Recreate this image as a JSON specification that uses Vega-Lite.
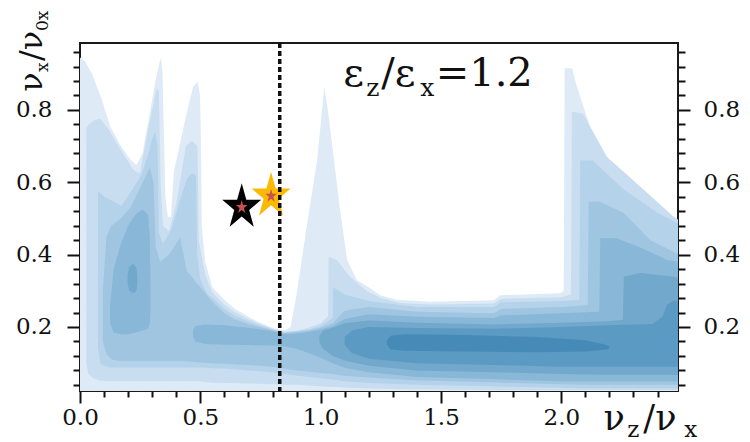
{
"$schema":"https://vega.github.io/schema/vega-lite/v6.json",
"autosize":"none",
"width":598,"height":348,
"padding":{"left":80,"top":43,"right":72,"bottom":51},
"background":"white",
"config":{"view":{"stroke":"#1a1a1a","strokeWidth":2}},
"datasets":{
"c":[
{"l":1,"p":"a","x":0.0,"lo":0.02,"hi":0.945},{"l":1,"p":"a","x":0.02,"lo":0.02,"hi":0.935},{"l":1,"p":"a","x":0.05,"lo":0.02,"hi":0.9},{"l":1,"p":"a","x":0.09,"lo":0.02,"hi":0.83},{"l":1,"p":"a","x":0.125,"lo":0.02,"hi":0.755},{"l":1,"p":"a","x":0.17,"lo":0.02,"hi":0.7},{"l":1,"p":"a","x":0.21,"lo":0.02,"hi":0.662},{"l":1,"p":"a","x":0.235,"lo":0.02,"hi":0.648},{"l":1,"p":"a","x":0.26,"lo":0.02,"hi":0.68},{"l":1,"p":"a","x":0.29,"lo":0.02,"hi":0.79},{"l":1,"p":"a","x":0.312,"lo":0.02,"hi":0.875},{"l":1,"p":"a","x":0.33,"lo":0.02,"hi":0.93},{"l":1,"p":"a","x":0.337,"lo":0.02,"hi":0.945},{"l":1,"p":"a","x":0.343,"lo":0.02,"hi":0.9},{"l":1,"p":"a","x":0.348,"lo":0.02,"hi":0.75},{"l":1,"p":"a","x":0.355,"lo":0.02,"hi":0.56},{"l":1,"p":"a","x":0.365,"lo":0.02,"hi":0.505},{"l":1,"p":"a","x":0.378,"lo":0.02,"hi":0.505},{"l":1,"p":"a","x":0.39,"lo":0.02,"hi":0.63},{"l":1,"p":"a","x":0.42,"lo":0.02,"hi":0.72},{"l":1,"p":"a","x":0.443,"lo":0.02,"hi":0.79},{"l":1,"p":"a","x":0.47,"lo":0.02,"hi":0.864},{"l":1,"p":"a","x":0.489,"lo":0.02,"hi":0.878},{"l":1,"p":"a","x":0.499,"lo":0.02,"hi":0.84},{"l":1,"p":"a","x":0.503,"lo":0.02,"hi":0.7},{"l":1,"p":"a","x":0.506,"lo":0.02,"hi":0.48},{"l":1,"p":"a","x":0.52,"lo":0.02,"hi":0.38},{"l":1,"p":"a","x":0.55,"lo":0.02,"hi":0.31},{"l":1,"p":"a","x":0.6,"lo":0.02,"hi":0.275},{"l":1,"p":"a","x":0.64,"lo":0.02,"hi":0.252},{"l":1,"p":"a","x":0.7,"lo":0.02,"hi":0.228},{"l":1,"p":"a","x":0.735,"lo":0.02,"hi":0.216},{"l":1,"p":"a","x":0.8,"lo":0.02,"hi":0.197},{"l":1,"p":"a","x":0.85,"lo":0.02,"hi":0.19},{"l":1,"p":"a","x":0.875,"lo":0.02,"hi":0.2},{"l":1,"p":"a","x":0.9,"lo":0.02,"hi":0.29},{"l":1,"p":"a","x":0.942,"lo":0.02,"hi":0.477},{"l":1,"p":"a","x":0.985,"lo":0.02,"hi":0.66},{"l":1,"p":"a","x":1.0,"lo":0.02,"hi":0.76},{"l":1,"p":"a","x":1.015,"lo":0.02,"hi":0.865},{"l":1,"p":"a","x":1.03,"lo":0.02,"hi":0.8},{"l":1,"p":"a","x":1.047,"lo":0.02,"hi":0.708},{"l":1,"p":"a","x":1.081,"lo":0.02,"hi":0.523},{"l":1,"p":"a","x":1.11,"lo":0.02,"hi":0.385},{"l":1,"p":"a","x":1.15,"lo":0.02,"hi":0.33},{"l":1,"p":"a","x":1.206,"lo":0.02,"hi":0.307},{"l":1,"p":"a","x":1.247,"lo":0.02,"hi":0.288},{"l":1,"p":"a","x":1.317,"lo":0.02,"hi":0.275},{"l":1,"p":"a","x":1.455,"lo":0.02,"hi":0.27},{"l":1,"p":"a","x":1.72,"lo":0.02,"hi":0.274},{"l":1,"p":"a","x":1.746,"lo":0.02,"hi":0.288},{"l":1,"p":"a","x":1.996,"lo":0.02,"hi":0.293},{"l":1,"p":"a","x":2.01,"lo":0.02,"hi":0.3},{"l":1,"p":"a","x":2.014,"lo":0.02,"hi":0.915},{"l":1,"p":"a","x":2.045,"lo":0.02,"hi":0.915},{"l":1,"p":"a","x":2.065,"lo":0.02,"hi":0.864},{"l":1,"p":"a","x":2.12,"lo":0.02,"hi":0.753},{"l":1,"p":"a","x":2.19,"lo":0.02,"hi":0.661},{"l":1,"p":"a","x":2.328,"lo":0.02,"hi":0.569},{"l":1,"p":"a","x":2.467,"lo":0.02,"hi":0.477},{"l":1,"p":"a","x":2.49,"lo":0.02,"hi":0.46},

{"l":2,"p":"a","x":0.026,"lo":0.1,"hi":0.75},{"l":2,"p":"a","x":0.035,"lo":0.07,"hi":0.758},{"l":2,"p":"a","x":0.055,"lo":0.058,"hi":0.77},{"l":2,"p":"a","x":0.083,"lo":0.052,"hi":0.776},{"l":2,"p":"a","x":0.12,"lo":0.05,"hi":0.745},{"l":2,"p":"a","x":0.153,"lo":0.05,"hi":0.708},{"l":2,"p":"a","x":0.222,"lo":0.05,"hi":0.634},{"l":2,"p":"a","x":0.249,"lo":0.05,"hi":0.625},{"l":2,"p":"a","x":0.284,"lo":0.05,"hi":0.75},{"l":2,"p":"a","x":0.3,"lo":0.05,"hi":0.8},{"l":2,"p":"a","x":0.318,"lo":0.05,"hi":0.86},{"l":2,"p":"a","x":0.328,"lo":0.05,"hi":0.85},{"l":2,"p":"a","x":0.335,"lo":0.05,"hi":0.6},{"l":2,"p":"a","x":0.345,"lo":0.05,"hi":0.48},{"l":2,"p":"a","x":0.37,"lo":0.05,"hi":0.465},{"l":2,"p":"a","x":0.4,"lo":0.05,"hi":0.54},{"l":2,"p":"a","x":0.44,"lo":0.05,"hi":0.7},{"l":2,"p":"a","x":0.465,"lo":0.05,"hi":0.715},{"l":2,"p":"a","x":0.488,"lo":0.05,"hi":0.7},{"l":2,"p":"a","x":0.494,"lo":0.05,"hi":0.44},{"l":2,"p":"a","x":0.52,"lo":0.048,"hi":0.345},{"l":2,"p":"a","x":0.55,"lo":0.046,"hi":0.295},{"l":2,"p":"a","x":0.6,"lo":0.045,"hi":0.262},{"l":2,"p":"a","x":0.64,"lo":0.045,"hi":0.242},{"l":2,"p":"a","x":0.7,"lo":0.044,"hi":0.222},{"l":2,"p":"a","x":0.735,"lo":0.043,"hi":0.212},{"l":2,"p":"a","x":0.8,"lo":0.042,"hi":0.195},{"l":2,"p":"a","x":0.85,"lo":0.04,"hi":0.187},{"l":2,"p":"a","x":0.9,"lo":0.04,"hi":0.19},{"l":2,"p":"a","x":0.95,"lo":0.038,"hi":0.198},{"l":2,"p":"a","x":1.0,"lo":0.036,"hi":0.21},{"l":2,"p":"a","x":1.031,"lo":0.035,"hi":0.23},{"l":2,"p":"a","x":1.033,"lo":0.035,"hi":0.394},{"l":2,"p":"a","x":1.067,"lo":0.034,"hi":0.385},{"l":2,"p":"a","x":1.12,"lo":0.032,"hi":0.34},{"l":2,"p":"a","x":1.19,"lo":0.03,"hi":0.3},{"l":2,"p":"a","x":1.25,"lo":0.029,"hi":0.28},{"l":2,"p":"a","x":1.33,"lo":0.028,"hi":0.266},{"l":2,"p":"a","x":1.455,"lo":0.027,"hi":0.262},{"l":2,"p":"a","x":1.72,"lo":0.026,"hi":0.265},{"l":2,"p":"a","x":1.75,"lo":0.026,"hi":0.278},{"l":2,"p":"a","x":2.0,"lo":0.025,"hi":0.282},{"l":2,"p":"a","x":2.04,"lo":0.025,"hi":0.29},{"l":2,"p":"a","x":2.044,"lo":0.025,"hi":0.795},{"l":2,"p":"a","x":2.09,"lo":0.025,"hi":0.79},{"l":2,"p":"a","x":2.19,"lo":0.025,"hi":0.67},{"l":2,"p":"a","x":2.328,"lo":0.025,"hi":0.588},{"l":2,"p":"a","x":2.467,"lo":0.025,"hi":0.505},{"l":2,"p":"a","x":2.49,"lo":0.025,"hi":0.495},

{"l":3,"p":"a","x":0.075,"lo":0.14,"hi":0.575},{"l":3,"p":"a","x":0.085,"lo":0.1,"hi":0.57},{"l":3,"p":"a","x":0.1,"lo":0.092,"hi":0.56},{"l":3,"p":"a","x":0.13,"lo":0.088,"hi":0.55},{"l":3,"p":"a","x":0.172,"lo":0.088,"hi":0.535},{"l":3,"p":"a","x":0.213,"lo":0.088,"hi":0.575},{"l":3,"p":"a","x":0.255,"lo":0.088,"hi":0.62},{"l":3,"p":"a","x":0.28,"lo":0.088,"hi":0.67},{"l":3,"p":"a","x":0.3,"lo":0.088,"hi":0.72},{"l":3,"p":"a","x":0.312,"lo":0.088,"hi":0.74},{"l":3,"p":"a","x":0.322,"lo":0.088,"hi":0.7},{"l":3,"p":"a","x":0.328,"lo":0.088,"hi":0.46},{"l":3,"p":"a","x":0.345,"lo":0.088,"hi":0.43},{"l":3,"p":"a","x":0.38,"lo":0.088,"hi":0.47},{"l":3,"p":"a","x":0.42,"lo":0.088,"hi":0.56},{"l":3,"p":"a","x":0.445,"lo":0.088,"hi":0.61},{"l":3,"p":"a","x":0.465,"lo":0.088,"hi":0.625},{"l":3,"p":"a","x":0.482,"lo":0.088,"hi":0.62},{"l":3,"p":"a","x":0.487,"lo":0.088,"hi":0.4},{"l":3,"p":"a","x":0.5,"lo":0.088,"hi":0.33},{"l":3,"p":"a","x":0.53,"lo":0.087,"hi":0.29},{"l":3,"p":"a","x":0.55,"lo":0.086,"hi":0.28},{"l":3,"p":"a","x":0.6,"lo":0.085,"hi":0.25},{"l":3,"p":"a","x":0.64,"lo":0.083,"hi":0.232},{"l":3,"p":"a","x":0.7,"lo":0.08,"hi":0.215},{"l":3,"p":"a","x":0.8,"lo":0.075,"hi":0.193},{"l":3,"p":"a","x":0.85,"lo":0.07,"hi":0.185},{"l":3,"p":"a","x":0.9,"lo":0.066,"hi":0.188},{"l":3,"p":"a","x":0.95,"lo":0.062,"hi":0.193},{"l":3,"p":"a","x":1.0,"lo":0.058,"hi":0.203},{"l":3,"p":"a","x":1.05,"lo":0.055,"hi":0.225},{"l":3,"p":"a","x":1.052,"lo":0.055,"hi":0.31},{"l":3,"p":"a","x":1.1,"lo":0.05,"hi":0.29},{"l":3,"p":"a","x":1.2,"lo":0.045,"hi":0.272},{"l":3,"p":"a","x":1.4,"lo":0.04,"hi":0.255},{"l":3,"p":"a","x":1.72,"lo":0.036,"hi":0.255},{"l":3,"p":"a","x":1.75,"lo":0.035,"hi":0.268},{"l":3,"p":"a","x":2.0,"lo":0.032,"hi":0.272},{"l":3,"p":"a","x":2.075,"lo":0.03,"hi":0.275},{"l":3,"p":"a","x":2.079,"lo":0.03,"hi":0.66},{"l":3,"p":"a","x":2.13,"lo":0.03,"hi":0.66},{"l":3,"p":"a","x":2.26,"lo":0.03,"hi":0.58},{"l":3,"p":"a","x":2.4,"lo":0.03,"hi":0.515},{"l":3,"p":"a","x":2.49,"lo":0.03,"hi":0.485},

{"l":4,"p":"a","x":0.095,"lo":0.16,"hi":0.3},{"l":4,"p":"a","x":0.11,"lo":0.125,"hi":0.45},{"l":4,"p":"a","x":0.13,"lo":0.11,"hi":0.48},{"l":4,"p":"a","x":0.17,"lo":0.105,"hi":0.5},{"l":4,"p":"a","x":0.21,"lo":0.105,"hi":0.53},{"l":4,"p":"a","x":0.25,"lo":0.105,"hi":0.585},{"l":4,"p":"a","x":0.29,"lo":0.105,"hi":0.64},{"l":4,"p":"a","x":0.305,"lo":0.105,"hi":0.6},{"l":4,"p":"a","x":0.315,"lo":0.105,"hi":0.42},{"l":4,"p":"a","x":0.333,"lo":0.105,"hi":0.38},{"l":4,"p":"a","x":0.37,"lo":0.105,"hi":0.4},{"l":4,"p":"a","x":0.416,"lo":0.105,"hi":0.447},{"l":4,"p":"a","x":0.444,"lo":0.105,"hi":0.355},{"l":4,"p":"a","x":0.5,"lo":0.102,"hi":0.31},{"l":4,"p":"a","x":0.55,"lo":0.1,"hi":0.27},{"l":4,"p":"a","x":0.6,"lo":0.098,"hi":0.238},{"l":4,"p":"a","x":0.64,"lo":0.097,"hi":0.222},{"l":4,"p":"a","x":0.7,"lo":0.095,"hi":0.208},{"l":4,"p":"a","x":0.8,"lo":0.09,"hi":0.191},{"l":4,"p":"a","x":0.85,"lo":0.085,"hi":0.183},{"l":4,"p":"a","x":0.9,"lo":0.08,"hi":0.186},{"l":4,"p":"a","x":0.95,"lo":0.077,"hi":0.19},{"l":4,"p":"a","x":1.0,"lo":0.073,"hi":0.198},{"l":4,"p":"a","x":1.05,"lo":0.07,"hi":0.21},{"l":4,"p":"a","x":1.1,"lo":0.065,"hi":0.245},{"l":4,"p":"a","x":1.2,"lo":0.06,"hi":0.255},{"l":4,"p":"a","x":1.4,"lo":0.052,"hi":0.242},{"l":4,"p":"a","x":1.72,"lo":0.047,"hi":0.238},{"l":4,"p":"a","x":1.75,"lo":0.046,"hi":0.25},{"l":4,"p":"a","x":2.0,"lo":0.042,"hi":0.255},{"l":4,"p":"a","x":2.11,"lo":0.04,"hi":0.26},{"l":4,"p":"a","x":2.114,"lo":0.04,"hi":0.546},{"l":4,"p":"a","x":2.16,"lo":0.04,"hi":0.546},{"l":4,"p":"a","x":2.26,"lo":0.04,"hi":0.515},{"l":4,"p":"a","x":2.37,"lo":0.04,"hi":0.44},{"l":4,"p":"a","x":2.49,"lo":0.04,"hi":0.4},

{"l":5,"p":"a","x":0.125,"lo":0.21,"hi":0.26},{"l":5,"p":"a","x":0.14,"lo":0.185,"hi":0.36},{"l":5,"p":"a","x":0.17,"lo":0.18,"hi":0.43},{"l":5,"p":"a","x":0.2,"lo":0.18,"hi":0.48},{"l":5,"p":"a","x":0.23,"lo":0.185,"hi":0.51},{"l":5,"p":"a","x":0.26,"lo":0.19,"hi":0.525},{"l":5,"p":"a","x":0.283,"lo":0.195,"hi":0.51},{"l":5,"p":"a","x":0.29,"lo":0.21,"hi":0.45},{"l":5,"p":"a","x":0.293,"lo":0.25,"hi":0.3},
{"l":5,"p":"b","x":0.47,"lo":0.172,"hi":0.192},{"l":5,"p":"b","x":0.48,"lo":0.16,"hi":0.203},{"l":5,"p":"b","x":0.52,"lo":0.153,"hi":0.207},{"l":5,"p":"b","x":0.6,"lo":0.151,"hi":0.205},{"l":5,"p":"b","x":0.7,"lo":0.15,"hi":0.198},{"l":5,"p":"b","x":0.8,"lo":0.149,"hi":0.188},{"l":5,"p":"b","x":0.85,"lo":0.147,"hi":0.18},{"l":5,"p":"b","x":0.9,"lo":0.14,"hi":0.182},{"l":5,"p":"b","x":0.95,"lo":0.128,"hi":0.186},{"l":5,"p":"b","x":1.0,"lo":0.115,"hi":0.193},{"l":5,"p":"b","x":1.05,"lo":0.1,"hi":0.203},{"l":5,"p":"b","x":1.1,"lo":0.087,"hi":0.222},{"l":5,"p":"b","x":1.2,"lo":0.075,"hi":0.235},{"l":5,"p":"b","x":1.4,"lo":0.062,"hi":0.228},{"l":5,"p":"b","x":1.72,"lo":0.056,"hi":0.225},{"l":5,"p":"b","x":1.75,"lo":0.055,"hi":0.232},{"l":5,"p":"b","x":2.0,"lo":0.05,"hi":0.238},{"l":5,"p":"b","x":2.158,"lo":0.05,"hi":0.242},{"l":5,"p":"b","x":2.162,"lo":0.05,"hi":0.445},{"l":5,"p":"b","x":2.23,"lo":0.05,"hi":0.445},{"l":5,"p":"b","x":2.328,"lo":0.05,"hi":0.42},{"l":5,"p":"b","x":2.44,"lo":0.05,"hi":0.385},{"l":5,"p":"b","x":2.49,"lo":0.05,"hi":0.38},

{"l":6,"p":"a","x":0.198,"lo":0.32,"hi":0.345},{"l":6,"p":"a","x":0.205,"lo":0.3,"hi":0.365},{"l":6,"p":"a","x":0.22,"lo":0.294,"hi":0.374},{"l":6,"p":"a","x":0.233,"lo":0.298,"hi":0.365},{"l":6,"p":"a","x":0.238,"lo":0.315,"hi":0.345},
{"l":6,"p":"b","x":0.995,"lo":0.158,"hi":0.175},{"l":6,"p":"b","x":1.01,"lo":0.14,"hi":0.19},{"l":6,"p":"b","x":1.05,"lo":0.12,"hi":0.198},{"l":6,"p":"b","x":1.1,"lo":0.107,"hi":0.21},{"l":6,"p":"b","x":1.2,"lo":0.093,"hi":0.218},{"l":6,"p":"b","x":1.4,"lo":0.08,"hi":0.212},{"l":6,"p":"b","x":1.72,"lo":0.075,"hi":0.207},{"l":6,"p":"b","x":2.0,"lo":0.07,"hi":0.212},{"l":6,"p":"b","x":2.2,"lo":0.068,"hi":0.216},{"l":6,"p":"b","x":2.256,"lo":0.068,"hi":0.22},{"l":6,"p":"b","x":2.26,"lo":0.068,"hi":0.339},{"l":6,"p":"b","x":2.328,"lo":0.068,"hi":0.349},{"l":6,"p":"b","x":2.467,"lo":0.068,"hi":0.339},{"l":6,"p":"b","x":2.49,"lo":0.068,"hi":0.335},

{"l":7,"p":"a","x":1.1,"lo":0.15,"hi":0.172},{"l":7,"p":"a","x":1.13,"lo":0.128,"hi":0.19},{"l":7,"p":"a","x":1.2,"lo":0.112,"hi":0.2},{"l":7,"p":"a","x":1.4,"lo":0.1,"hi":0.197},{"l":7,"p":"a","x":1.72,"lo":0.095,"hi":0.195},{"l":7,"p":"a","x":2.0,"lo":0.09,"hi":0.2},{"l":7,"p":"a","x":2.2,"lo":0.09,"hi":0.205},{"l":7,"p":"a","x":2.38,"lo":0.09,"hi":0.208},{"l":7,"p":"a","x":2.42,"lo":0.09,"hi":0.228},{"l":7,"p":"a","x":2.44,"lo":0.09,"hi":0.262},{"l":7,"p":"a","x":2.47,"lo":0.09,"hi":0.274},{"l":7,"p":"a","x":2.49,"lo":0.09,"hi":0.27},

{"l":8,"p":"a","x":1.275,"lo":0.152,"hi":0.162},{"l":8,"p":"a","x":1.29,"lo":0.138,"hi":0.176},{"l":8,"p":"a","x":1.35,"lo":0.134,"hi":0.18},{"l":8,"p":"a","x":1.6,"lo":0.132,"hi":0.178},{"l":8,"p":"a","x":1.9,"lo":0.13,"hi":0.172},{"l":8,"p":"a","x":2.1,"lo":0.132,"hi":0.163},{"l":8,"p":"a","x":2.19,"lo":0.138,"hi":0.15},{"l":8,"p":"a","x":2.2,"lo":0.142,"hi":0.146}
],
"s":[{"k":"b","x":0.672,"y":0.531},{"k":"g","x":0.794,"y":0.562}],
"t":[
{"g":"big","t":"ε","x":1.094,"y":0.866},
{"g":"big","t":"/ε","x":1.252,"y":0.866},
{"g":"big","t":"=1.2","x":1.478,"y":0.866},
{"g":"sub","t":"z","x":1.189,"y":0.839},
{"g":"sub","t":"x","x":1.414,"y":0.839},
{"g":"bt","t":"ν","x":2.175,"y":-0.084},
{"g":"bt","t":"/ν","x":2.341,"y":-0.084},
{"g":"bs","t":"z","x":2.274,"y":-0.103},
{"g":"bs","t":"x","x":2.511,"y":-0.103},
{"g":"lt","t":"ν","x":-0.158,"y":0.85},
{"g":"lt","t":"/ν","x":-0.158,"y":0.935},
{"g":"ls","t":"x","x":-0.133,"y":0.905},
{"g":"ls","t":"0x","x":-0.133,"y":1.018}
]
},
"encoding":{
"x":{"field":"x","type":"quantitative","scale":{"domain":[0,2.485],"nice":false,"zero":false},
 "axis":{"orient":"bottom","values":[0,0.1,0.2,0.3,0.4,0.5,0.6,0.7,0.8,0.9,1.0,1.1,1.2,1.3,1.4,1.5,1.6,1.7,1.8,1.9,2.0,2.1,2.2,2.3,2.4],
 "labelExpr":"abs(datum.value*2-round(datum.value*2))<0.001 ? format(datum.value,'.1f') : ''",
 "tickSize":{"condition":{"test":"abs(datum.value*2-round(datum.value*2))<0.001","value":12},"value":6},
 "tickWidth":2,"tickColor":"#111","domain":false,"grid":false,"title":null,
 "labelFont":"DejaVu Serif","labelFontSize":23,"labelColor":"#111","labelPadding":3,"labelOverlap":false,"labelFlush":false,"labelBound":false}}
},
"resolve":{"axis":{"y":"independent"}},
"layer":[
{
"data":{"name":"c"},
"encoding":{
"y":{"field":"lo","type":"quantitative","scale":{"domain":[0.023,0.985],"nice":false,"zero":false},
 "axis":{"orient":"left","values":[0.04,0.08,0.12,0.16,0.2,0.24,0.28,0.32,0.36,0.4,0.44,0.48,0.52,0.56,0.6,0.64,0.68,0.72,0.76,0.8,0.84,0.88,0.92,0.96],
 "labelExpr":"abs(datum.value*5-round(datum.value*5))<0.001 ? format(datum.value,'.1f') : ''",
 "tickSize":{"condition":{"test":"abs(datum.value*5-round(datum.value*5))<0.001","value":13},"value":7},
 "tickWidth":2,"tickColor":"#111","domain":false,"grid":false,"title":null,
 "labelFont":"DejaVu Serif","labelFontSize":23,"labelColor":"#111","labelPadding":15,"labelOverlap":false,"labelFlush":false,"labelBound":false}},
"y2":{"field":"hi"},
"detail":{"field":"p"}
},
"layer":[
{"transform":[{"filter":"datum.l==1"}],"mark":{"type":"area","orient":"vertical","color":"#deebf7","opacity":1,"clip":true}},
{"transform":[{"filter":"datum.l==2"}],"mark":{"type":"area","orient":"vertical","color":"#c9ddf0","opacity":1,"clip":true}},
{"transform":[{"filter":"datum.l==3"}],"mark":{"type":"area","orient":"vertical","color":"#b4d2ea","opacity":1,"clip":true}},
{"transform":[{"filter":"datum.l==4"}],"mark":{"type":"area","orient":"vertical","color":"#9fc5e1","opacity":1,"clip":true}},
{"transform":[{"filter":"datum.l==5"}],"mark":{"type":"area","orient":"vertical","color":"#88b7d7","opacity":1,"clip":true}},
{"transform":[{"filter":"datum.l==6"}],"mark":{"type":"area","orient":"vertical","color":"#71a8cc","opacity":1,"clip":true}},
{"transform":[{"filter":"datum.l==7"}],"mark":{"type":"area","orient":"vertical","color":"#5b9ac2","opacity":1,"clip":true}},
{"transform":[{"filter":"datum.l==8"}],"mark":{"type":"area","orient":"vertical","color":"#468bb8","opacity":1,"clip":true}}
]
},
{
"data":{"name":"s"},
"mark":{"type":"point","shape":"M0,-1.17L0.225,-0.362L0.951,-0.362L0.363,0.138L0.588,0.947L0,0.447L-0.588,0.947L-0.363,0.138L-0.951,-0.362L-0.225,-0.362Z","filled":true,"opacity":1,"size":1681},
"encoding":{
"y":{"field":"y","type":"quantitative","scale":{"domain":[0.023,0.985],"nice":false,"zero":false},
 "axis":{"orient":"right","values":[0.04,0.08,0.12,0.16,0.2,0.24,0.28,0.32,0.36,0.4,0.44,0.48,0.52,0.56,0.6,0.64,0.68,0.72,0.76,0.8,0.84,0.88,0.92,0.96],
 "labelExpr":"abs(datum.value*5-round(datum.value*5))<0.001 ? format(datum.value,'.1f') : ''",
 "tickSize":{"condition":{"test":"abs(datum.value*5-round(datum.value*5))<0.001","value":12},"value":7},
 "tickWidth":2,"tickColor":"#111","domain":false,"grid":false,"title":null,
 "labelFont":"DejaVu Serif","labelFontSize":23,"labelColor":"#111","labelPadding":13,"labelOverlap":false,"labelFlush":false,"labelBound":false}},
"color":{"field":"k","type":"nominal","scale":{"domain":["b","g"],"range":["#000000","#fbb904"]},"legend":null}
}
},
{
"data":{"name":"s"},
"mark":{"type":"point","shape":"M0,-1.17L0.225,-0.362L0.951,-0.362L0.363,0.138L0.588,0.947L0,0.447L-0.588,0.947L-0.363,0.138L-0.951,-0.362L-0.225,-0.362Z","filled":true,"opacity":1,"size":149,"color":"#c9514f"},
"encoding":{
"y":{"field":"y","type":"quantitative","scale":{"domain":[0.023,0.985],"nice":false,"zero":false},"axis":null}
}
},
{
"data":{"values":[{"x":0.83}]},
"mark":{"type":"rule","strokeDash":[5,3],"strokeWidth":3.5,"color":"#111"},
"encoding":{}
},
{
"data":{"name":"t"},"transform":[{"filter":"datum.g=='big'"}],
"mark":{"type":"text","font":"DejaVu Serif","fontSize":40,"align":"left","baseline":"alphabetic","color":"#111"},
"encoding":{"y":{"field":"y","type":"quantitative","scale":{"domain":[0.023,0.985],"nice":false,"zero":false},"axis":null},"text":{"field":"t"}}
},
{
"data":{"name":"t"},"transform":[{"filter":"datum.g=='sub'"}],
"mark":{"type":"text","font":"DejaVu Serif","fontSize":25,"align":"left","baseline":"alphabetic","color":"#111"},
"encoding":{"y":{"field":"y","type":"quantitative","scale":{"domain":[0.023,0.985],"nice":false,"zero":false},"axis":null},"text":{"field":"t"}}
},
{
"data":{"name":"t"},"transform":[{"filter":"datum.g=='bt'"}],
"mark":{"type":"text","font":"DejaVu Serif","fontSize":35,"align":"left","baseline":"alphabetic","color":"#111"},
"encoding":{"y":{"field":"y","type":"quantitative","scale":{"domain":[0.023,0.985],"nice":false,"zero":false},"axis":null},"text":{"field":"t"}}
},
{
"data":{"name":"t"},"transform":[{"filter":"datum.g=='bs'"}],
"mark":{"type":"text","font":"DejaVu Serif","fontSize":23,"align":"left","baseline":"alphabetic","color":"#111"},
"encoding":{"y":{"field":"y","type":"quantitative","scale":{"domain":[0.023,0.985],"nice":false,"zero":false},"axis":null},"text":{"field":"t"}}
},
{
"data":{"name":"t"},"transform":[{"filter":"datum.g=='lt'"}],
"mark":{"type":"text","font":"DejaVu Serif","fontSize":32,"align":"left","baseline":"alphabetic","angle":270,"color":"#111"},
"encoding":{"y":{"field":"y","type":"quantitative","scale":{"domain":[0.023,0.985],"nice":false,"zero":false},"axis":null},"text":{"field":"t"}}
},
{
"data":{"name":"t"},"transform":[{"filter":"datum.g=='ls'"}],
"mark":{"type":"text","font":"DejaVu Serif","fontSize":17,"align":"left","baseline":"alphabetic","angle":270,"color":"#111"},
"encoding":{"y":{"field":"y","type":"quantitative","scale":{"domain":[0.023,0.985],"nice":false,"zero":false},"axis":null},"text":{"field":"t"}}
}
]
}
